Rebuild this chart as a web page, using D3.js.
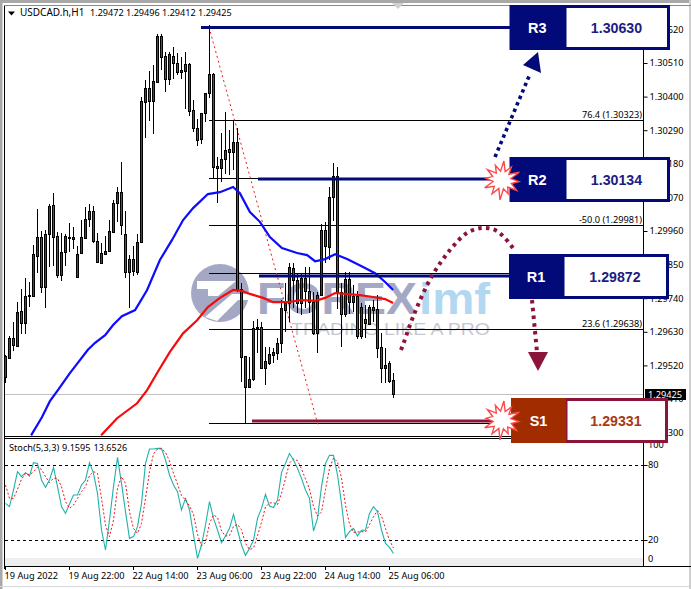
<!DOCTYPE html>
<html><head><meta charset="utf-8">
<script src="https://cdnjs.cloudflare.com/ajax/libs/d3/7.8.5/d3.min.js"></script>
<style>html,body{margin:0;padding:0;background:#fff;overflow:hidden}svg{display:block}</style>
</head><body><svg id="c" width="691" height="589"></svg>
<script>
const opens=[1.29482,1.29544,1.29609,1.29584,1.29698,1.29658,1.29747,1.29747,1.29878,1.29940,1.29777,1.29950,1.30045,1.29944,1.29816,1.29891,1.29937,1.29934,1.29809,1.29888,1.29937,1.29999,1.30025,1.29927,1.29855,1.29884,1.29894,1.29957,1.30051,1.30087,1.29950,1.29825,1.29868,1.29825,1.29924,1.30382,1.30427,1.30386,1.30447,1.30599,1.30533,1.30457,1.30533,1.30510,1.30480,1.30483,1.30506,1.30356,1.30297,1.30261,1.30346,1.30411,1.30474,1.30173,1.30166,1.30196,1.30228,1.30218,1.30251,1.29770,1.29551,1.29449,1.29475,1.29642,1.29645,1.29511,1.29528,1.29554,1.29561,1.29594,1.29701,1.29724,1.29838,1.29800,1.29724,1.29806,1.29764,1.29727,1.29625,1.29751,1.29963,1.29907,1.30071,1.30140,1.29760,1.29688,1.29802,1.29727,1.29747,1.29616,1.29672,1.29655,1.29711,1.29704,1.29580,1.29511,1.29528,1.29472];
const highs=[1.29554,1.29616,1.29662,1.29727,1.29770,1.29806,1.29793,1.29914,1.30031,1.29960,1.29963,1.30048,1.30084,1.29957,1.29953,1.29950,1.29986,1.29973,1.29911,1.29996,1.30038,1.30048,1.30041,1.29953,1.29921,1.29944,1.29996,1.30061,1.30104,1.30186,1.30025,1.29881,1.29911,1.29950,1.30399,1.30454,1.30483,1.30503,1.30605,1.30605,1.30546,1.30546,1.30562,1.30543,1.30529,1.30546,1.30510,1.30389,1.30326,1.30346,1.30411,1.30635,1.30477,1.30202,1.30280,1.30350,1.30290,1.30323,1.30297,1.29790,1.29551,1.29547,1.29665,1.29672,1.29662,1.29580,1.29580,1.29577,1.29609,1.29734,1.29790,1.29855,1.29855,1.29822,1.29822,1.29842,1.29842,1.29760,1.29760,1.29983,1.29990,1.30104,1.30183,1.30170,1.29790,1.29825,1.29825,1.29783,1.29764,1.29724,1.29717,1.29717,1.29734,1.29751,1.29625,1.29577,1.29534,1.29496];
const lows=[1.29462,1.29544,1.29567,1.29580,1.29622,1.29622,1.29711,1.29744,1.29822,1.29757,1.29708,1.29842,1.29845,1.29806,1.29797,1.29845,1.29891,1.29901,1.29806,1.29884,1.29934,1.29973,1.29921,1.29855,1.29855,1.29881,1.29891,1.29953,1.29990,1.29947,1.29806,1.29708,1.29812,1.29816,1.29924,1.30264,1.30320,1.30277,1.30444,1.30487,1.30414,1.30437,1.30457,1.30470,1.30457,1.30359,1.30336,1.30284,1.30238,1.30244,1.30317,1.30396,1.30133,1.30051,1.30120,1.30147,1.30143,1.30160,1.29760,1.29465,1.29331,1.29445,1.29468,1.29561,1.29508,1.29455,1.29521,1.29528,1.29538,1.29561,1.29629,1.29662,1.29708,1.29691,1.29684,1.29708,1.29691,1.29619,1.29561,1.29747,1.29855,1.29865,1.29993,1.29704,1.29580,1.29678,1.29688,1.29695,1.29606,1.29606,1.29609,1.29652,1.29662,1.29544,1.29462,1.29462,1.29462,1.29412];
const closes=[1.29551,1.29609,1.29587,1.29695,1.29658,1.29747,1.29749,1.29884,1.29940,1.29777,1.29950,1.30041,1.29940,1.29816,1.29891,1.29944,1.29940,1.29940,1.29884,1.29940,1.29999,1.30025,1.29927,1.29858,1.29888,1.29894,1.29960,1.30051,1.30087,1.29980,1.29825,1.29868,1.29828,1.29924,1.30386,1.30427,1.30386,1.30451,1.30599,1.30529,1.30457,1.30539,1.30510,1.30480,1.30487,1.30506,1.30353,1.30297,1.30257,1.30346,1.30411,1.30474,1.30170,1.30166,1.30196,1.30225,1.30218,1.30251,1.29767,1.29547,1.29449,1.29475,1.29642,1.29645,1.29511,1.29534,1.29557,1.29564,1.29594,1.29708,1.29724,1.29842,1.29800,1.29724,1.29806,1.29764,1.29727,1.29625,1.29751,1.29963,1.29911,1.30071,1.30140,1.29757,1.29688,1.29802,1.29727,1.29747,1.29616,1.29711,1.29658,1.29711,1.29701,1.29577,1.29511,1.29521,1.29468,1.29425];
const blueMaBars=[6.4,9.1,11.1,13.1,16.1,20.6,22.4,24.9,26.9,29.1,32.4,35.4,38.6,41.6,44.4,46.9,50.6,53.6,56.9,58.6,61.1,63.6,66.1,69.1,72.9,75.4,77.4,79.9,82.4,85.4,89.4,92.4,94.9,96.9];
const blueMaValues=[1.29291,1.29350,1.29403,1.29439,1.29495,1.29571,1.29594,1.29619,1.29652,1.29681,1.29701,1.29767,1.29865,1.29930,1.29996,1.30035,1.30081,1.30087,1.30104,1.30084,1.30022,1.29990,1.29940,1.29904,1.29888,1.29881,1.29861,1.29868,1.29884,1.29868,1.29842,1.29822,1.29793,1.29767];
const redMaBars=[23.9,27.9,32.9,35.4,37.9,41.1,44.4,47.9,50.6,53.6,56.9,59.1,61.1,64.4,66.9,70.6,74.1,77.4,79.9,82.4,88.6,91.9,94.9,96.9];
const redMaValues=[1.29291,1.29347,1.29396,1.29439,1.29495,1.29564,1.29625,1.29668,1.29711,1.29741,1.29767,1.29764,1.29754,1.29741,1.29727,1.29727,1.29734,1.29731,1.29741,1.29757,1.29750,1.29744,1.29737,1.29724];
const stochMain=[49.3,46.7,60,74.7,70.7,73.9,71.2,81.9,81.3,68,62.1,68,78.1,62.7,46.7,41.3,48.8,56,56,64,68,81.9,73.3,57.3,28,12,36,62.7,86.1,65.3,42.7,21.3,22.7,30.7,49.3,81.3,92.8,92.8,93.3,93.3,84,72,64,58.7,44,53.3,44,24,5.3,16,32,50.7,37.3,28,17.9,23.2,29.3,40.5,28,16,7.7,13.3,20,37.3,45.3,56.5,47.2,45.9,52,73.9,81.3,89.3,84,77.3,69.3,60,53.3,27.2,37.3,62.7,81.3,87.7,87.7,72,49.3,22.1,26.7,29.3,23.2,27.7,28,41.3,46.7,42.7,28,17.3,14.1,9.1595];
const stochSignal=[64,53.3,53.3,60.5,68.5,73.3,72,74.7,78.1,76.5,70.7,65.9,69.3,69.3,62.7,50.7,45.3,48,53.3,58.7,62.7,71.5,74.7,73.3,53.3,32,22.7,36,61.3,70.7,65.3,42.7,29.3,25.3,33.3,53.3,74.7,88.8,92.8,93,90.1,83.2,73.3,64.8,55.5,52,47.2,40.5,24.5,15.2,17.9,33.3,40,38.1,27.2,23.2,23.5,30.9,32.5,28.3,17.3,12.3,13.6,23.5,34.1,46.4,49.6,49.9,48.3,57.3,69.1,81.6,84.8,83.5,76.8,68.8,60.8,46.9,39.2,42.4,60.5,77.3,85.6,82.4,69.6,47.7,32.8,26.1,26.4,26.7,26.4,32.3,38.7,43.5,39.2,29.3,19.7,13.6526];
const priceTicks=[1.30620,1.30510,1.30400,1.30290,1.30180,1.30070,1.29960,1.29850,1.29740,1.29630,1.29520,1.29410,1.29300];
const stochTicks=[100,80,20,0];
const timeTickBars=[0,16,32,48,64,80,96];
const timeLabels=["19 Aug 2022","19 Aug 22:00","22 Aug 14:00","23 Aug 06:00","23 Aug 22:00","24 Aug 14:00","25 Aug 06:00"];
const fibLevels=[1.30323,1.30134,1.29981,1.29824,1.29638,1.29331];
const fibLabels=["76.4 (1.30323)","","-50.0 (1.29981)","","23.6 (1.29638)",""];
const boxNames=["R3","R2","R1","S1"];
const boxValues=["1.30630","1.30134","1.29872","1.29331"];

const FONT="'Noto Sans',sans-serif";
const NAVY="#020a7a", WINE="#8b1538";
const svg=d3.select("#c");
const x=d3.scaleLinear().domain([0,97]).range([5.5,393.5]);
const y=d3.scaleLinear().domain([1.3051,1.2941]).range([63,399]);
const ys=d3.scaleLinear().domain([0,100]).range([565,440]);

// window chrome
svg.append("rect").attr("x",0).attr("y",0).attr("width",691).attr("height",3).attr("fill","#a8a8a8");
svg.append("rect").attr("x",0).attr("y",0).attr("width",2.5).attr("height",589).attr("fill","#a8a8a8");
svg.append("rect").attr("x",0).attr("y",586).attr("width",691).attr("height",1).attr("fill","#d8d8d8");
svg.append("rect").attr("x",689).attr("y",0).attr("width",2).attr("height",589).attr("fill","#d0d0d0");

const defs=svg.append("defs");
defs.append("clipPath").attr("id","mainClip").append("rect").attr("x",5).attr("y",6).attr("width",638).attr("height",430);
defs.append("clipPath").attr("id","stochClip").append("rect").attr("x",5).attr("y",439).attr("width",638).attr("height",127);

// watermark
const wm=svg.append("g");
wm.append("circle").attr("cx",220).attr("cy",293).attr("r",29).attr("fill","#a5a8c4");
wm.append("path").attr("d","M197 281H236L218 296H208V289H197Z M205 317L232 294H252V300H238L217 321Z").attr("fill","#fff");
wm.append("text").attr("x",257).attr("y",314).attr("font-family","'Liberation Sans',sans-serif").attr("font-weight","bold").attr("font-size",44).attr("textLength",160).attr("lengthAdjust","spacingAndGlyphs").attr("fill","#a5a8c4").text("FOREX");
wm.append("text").attr("x",419).attr("y",314).attr("font-family","'Liberation Sans',sans-serif").attr("font-weight","bold").attr("font-size",44).attr("textLength",71).attr("lengthAdjust","spacingAndGlyphs").attr("fill","#b2d7f0").text("imf");
wm.append("text").attr("x",291).attr("y",335).attr("font-family","'Liberation Sans',sans-serif").attr("font-size",16).attr("textLength",199).attr("lengthAdjust","spacingAndGlyphs").attr("fill","#c6c7cf").text("TRADING LIKE A PRO");

// current price line
svg.append("line").attr("x1",4).attr("x2",644).attr("y1",Math.round(y(closes[97]))+.5).attr("y2",Math.round(y(closes[97]))+.5).attr("stroke","#c0c0c0");

// fibo
const main=svg.append("g").attr("clip-path","url(#mainClip)");
main.selectAll("line.fib").data(fibLevels).join("line").attr("class","fib").attr("x1",209).attr("x2",644)
 .attr("y1",d=>Math.round(y(d))+.5).attr("y2",d=>Math.round(y(d))+.5).attr("stroke","#000").attr("stroke-width",1);
main.append("line").attr("x1",209).attr("y1",27).attr("x2",318).attr("y2",425).attr("stroke","#f01818").attr("stroke-width",1).attr("stroke-dasharray","2 3");
main.selectAll("text.fib").data(fibLevels).join("text").attr("class","fib").attr("x",642).attr("y",d=>Math.round(y(d))-2)
 .attr("text-anchor","end").attr("font-family",FONT).attr("font-size",9.2).attr("fill","#000").text((d,i)=>fibLabels[i]);

// candles
const bars=d3.range(closes.length);
const cg=main.append("g").attr("shape-rendering","crispEdges");
cg.selectAll("line").data(bars).join("line").attr("x1",i=>x(i)).attr("x2",i=>x(i))
 .attr("y1",i=>Math.round(y(highs[i]))).attr("y2",i=>Math.round(y(lows[i]))).attr("stroke","#000");
cg.selectAll("rect").data(bars).join("rect").attr("x",i=>x(i)-1)
 .attr("y",i=>Math.round(y(Math.max(opens[i],closes[i])))+.5)
 .attr("width",2)
 .attr("height",i=>Math.max(1,Math.round(y(Math.min(opens[i],closes[i])))-Math.round(y(Math.max(opens[i],closes[i])))))
 .attr("fill",i=>closes[i]>=opens[i]?"#0b6b1a":"#dc1a1c").attr("stroke","#000");

// moving averages
const maLine=d3.line().x(d=>x(d[0])).y(d=>y(d[1])).curve(d3.curveLinear);
main.append("path").attr("d",maLine(blueMaBars.map((b,i)=>[b,blueMaValues[i]]))).attr("fill","none").attr("stroke","#0c0cff").attr("stroke-width",2.2);
main.append("path").attr("d",maLine(redMaBars.map((b,i)=>[b,redMaValues[i]]))).attr("fill","none").attr("stroke","#f40c0c").attr("stroke-width",2.2);

// support / resistance lines (annotation layer)
const ann=svg.append("g");
ann.append("rect").attr("x",201).attr("y",26).attr("width",310).attr("height",3).attr("fill",NAVY);
ann.append("rect").attr("x",258).attr("y",177.5).attr("width",253).attr("height",3).attr("fill",NAVY);
ann.append("rect").attr("x",259).attr("y",274.5).attr("width",252).attr("height",3).attr("fill",NAVY);
ann.append("rect").attr("x",252).attr("y",419.5).attr("width",240).attr("height",3).attr("fill",WINE);

// axes
const axisG=svg.append("g");
const axisP=d3.axisRight(y).tickValues(priceTicks).tickSize(4).tickPadding(2).tickFormat(d3.format(".5f"));
const ga=axisG.append("g").attr("transform","translate(643.5,0)").call(axisP);
ga.select(".domain").remove();
ga.selectAll("text").attr("font-family",FONT).attr("font-size",9.2).attr("fill","#000");
ga.selectAll("line").attr("stroke","#000");
axisG.append("rect").attr("x",645).attr("y",389).attr("width",41).attr("height",11).attr("fill","#000");
axisG.append("text").attr("x",648).attr("y",398).attr("font-family",FONT).attr("font-size",9.2).attr("fill","#fff").text(closes[97].toFixed(5));

// pane frames
const fr=svg.append("g").attr("shape-rendering","crispEdges").attr("fill","none").attr("stroke","#000");
fr.append("line").attr("x1",4.5).attr("x2",4.5).attr("y1",5).attr("y2",569);
fr.append("line").attr("x1",4).attr("x2",691).attr("y1",5.5).attr("y2",5.5).attr("stroke","#888");
fr.append("line").attr("x1",643.5).attr("x2",643.5).attr("y1",5).attr("y2",566);
fr.append("line").attr("x1",4).attr("x2",644).attr("y1",436.5).attr("y2",436.5);
fr.append("line").attr("x1",4).attr("x2",644).attr("y1",438.5).attr("y2",438.5);
fr.append("line").attr("x1",4).attr("x2",691).attr("y1",566.5).attr("y2",566.5);

// stochastic pane
const st=svg.append("g").attr("clip-path","url(#stochClip)");
st.append("rect").attr("x",5).attr("y",558).attr("width",638).attr("height",8).attr("fill","#eeeeee");
st.selectAll("line.lvl").data([80,20]).join("line").attr("class","lvl").attr("x1",5).attr("x2",643)
 .attr("y1",d=>Math.round(ys(d))+.5).attr("y2",d=>Math.round(ys(d))+.5).attr("stroke","#000").attr("stroke-dasharray","3 3");
const sLine=d3.line().x((d,i)=>x(i)).y(d=>ys(d));
st.append("path").attr("d",sLine(stochMain)).attr("fill","none").attr("stroke","#20b2aa").attr("stroke-width",1.1);
st.append("path").attr("d",sLine(stochSignal)).attr("fill","none").attr("stroke","#f01414").attr("stroke-width",1).attr("stroke-dasharray","2 2");

const sa=svg.append("g");
sa.selectAll("text").data(stochTicks).join("text").attr("x",648)
 .attr("y",d=>d===100?ys(d)+8:d===0?ys(d)-3:ys(d)+3).attr("font-family",FONT).attr("font-size",9.2).text(d=>d);
sa.selectAll("line").data(stochTicks.slice(1,3)).join("line").attr("x1",643.5).attr("x2",647.5).attr("y1",d=>Math.round(ys(d))+.5).attr("y2",d=>Math.round(ys(d))+.5).attr("stroke","#000");

// time axis
const ta=svg.append("g");
ta.selectAll("line").data(timeTickBars).join("line").attr("x1",d=>x(d)).attr("x2",d=>x(d)).attr("y1",566).attr("y2",570).attr("stroke","#000").attr("shape-rendering","crispEdges");
ta.selectAll("text").data(timeTickBars).join("text").attr("x",d=>x(d)-1).attr("y",579).attr("font-family",FONT).attr("font-size",9.2).attr("fill","#000").text((d,i)=>timeLabels[i]);

// titles
svg.append("path").attr("d","M8 11.5H15L11.5 15.5Z").attr("fill","#000");
const title=svg.append("text").attr("y",16).attr("font-family",FONT).attr("fill","#000");
title.append("tspan").attr("x",20).attr("font-size",10).text("USDCAD.h,H1");
[opens[97],highs[97],lows[97],closes[97]].forEach((v,i)=>title.append("tspan").attr("x",90+36*i).attr("font-size",9.1).text(v.toFixed(5)));
const stochTitle=svg.append("text").attr("y",451).attr("font-family",FONT).attr("fill","#000");
stochTitle.append("tspan").attr("x",9).attr("font-size",9.2).text("Stoch(5,3,3)");
stochTitle.append("tspan").attr("x",62).attr("font-size",9.1).text(stochMain[97].toFixed(4));
stochTitle.append("tspan").attr("x",93.5).attr("font-size",9.1).text(stochSignal[97].toFixed(4));
svg.append("path").attr("d","M392 3H404L398 9Z").attr("fill","#d0d0d0");

// dotted arrows
const arrows=svg.append("g");
arrows.append("line").attr("x1",495).attr("y1",157).attr("x2",530).attr("y2",74).attr("stroke",NAVY).attr("stroke-width",3.6).attr("stroke-dasharray","3.4 3.6");
arrows.append("path").attr("d","M538 52L523 65L541 73Z").attr("fill",NAVY);
const arc=d3.line().curve(d3.curveCatmullRom)([[401,350],[404,342],[415,312],[432,276],[450,250],[467,233],[482,228],[497,231],[513,248]]);
arrows.append("path").attr("d",arc).attr("fill","none").attr("stroke",WINE).attr("stroke-width",4).attr("stroke-dasharray","3.5 4.3");
arrows.append("line").attr("x1",532).attr("y1",300).attr("x2",537).attr("y2",352).attr("stroke",WINE).attr("stroke-width",4).attr("stroke-dasharray","3.5 4.3");
arrows.append("path").attr("d","M528 352H548L538 371Z").attr("fill",WINE);

// boxes
const boxX=[509.5,509.5,509,511], boxY=[5,157,254,398], boxEnd=[670,670,669,668], boxSplit=[565,565,563,566];
const boxFill=[NAVY,NAVY,NAVY,"#a02c00"], boxStroke=[NAVY,NAVY,NAVY,WINE], boxText=["#1c1c82","#1c1c82","#1c1c82","#a83a14"];
boxNames.forEach((n,i)=>{
 const g=svg.append("g");
 g.append("rect").attr("x",boxSplit[i]).attr("y",boxY[i]+1.5).attr("width",boxEnd[i]-boxSplit[i]-1.5).attr("height",42).attr("fill","#fff").attr("stroke",boxStroke[i]).attr("stroke-width",3);
 g.append("rect").attr("x",boxX[i]).attr("y",boxY[i]).attr("width",boxSplit[i]-boxX[i]).attr("height",45).attr("fill",boxFill[i]);
 g.append("text").attr("x",(boxX[i]+boxSplit[i])/2).attr("y",boxY[i]+27.5).attr("text-anchor","middle").attr("font-family","'Liberation Sans',sans-serif").attr("font-weight","bold").attr("font-size",14.5).attr("fill","#fff").text(n);
 g.append("text").attr("x",(boxSplit[i]+boxEnd[i])/2-1).attr("y",boxY[i]+27.5).attr("text-anchor","middle").attr("font-family","'Liberation Sans',sans-serif").attr("font-weight","bold").attr("font-size",14.2).attr("fill",boxText[i]).text(boxValues[i]);
});

// starbursts (above the boxes)
const spikes=[19,9,16,9,19,9,17,10,18,9,15,9,20,9,17,10,19,9,16,10,18,9,16,9];
const burst=d3.lineRadial().angle((d,i)=>i/spikes.length*2*Math.PI+.1).radius(d=>d).curve(d3.curveLinearClosed)(spikes);
[[502,180],[502,420]].forEach(c=>svg.append("path").attr("transform",`translate(${c[0]},${c[1]})`).attr("d",burst).attr("fill","#fff").attr("stroke","#ff4848").attr("stroke-width",1.4));
</script></body></html>
